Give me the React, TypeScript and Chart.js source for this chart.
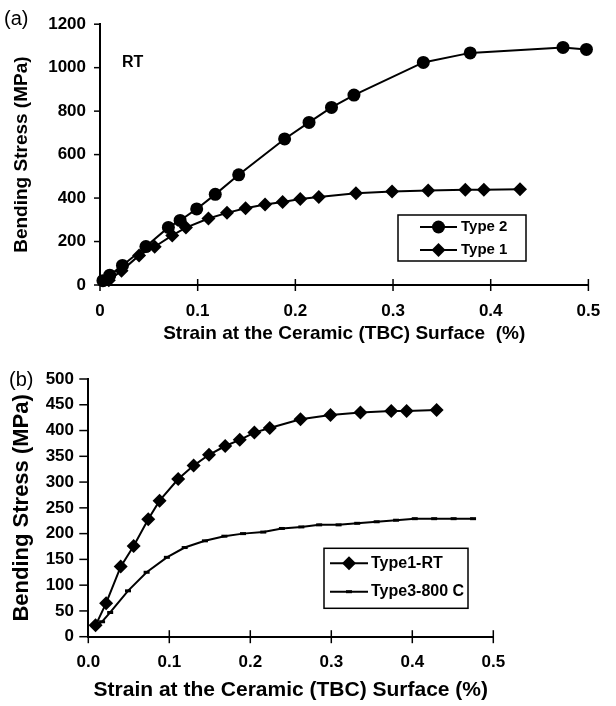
import React, { useEffect, useRef } from "react";
import { Chart, registerables } from "chart.js";

Chart.register(...registerables);

// ---- Data ----
const type2X = [0.003, 0.010, 0.023, 0.047, 0.070, 0.082, 0.099, 0.118, 0.142, 0.189, 0.214, 0.237, 0.260, 0.331, 0.379, 0.474, 0.498];
const type2Y = [20, 45, 90, 177, 265, 297, 350, 417, 507, 672, 748, 817, 874, 1024, 1068, 1093, 1084];

const type1X = [0.009, 0.022, 0.040, 0.056, 0.074, 0.088, 0.111, 0.130, 0.149, 0.169, 0.187, 0.205, 0.224, 0.262, 0.299, 0.336, 0.374, 0.393, 0.430];
const type1Y = [22, 65, 136, 176, 228, 264, 306, 332, 353, 370, 382, 396, 405, 422, 430, 435, 438, 438, 440];

const type3X = [0.010, 0.017, 0.027, 0.049, 0.072, 0.097, 0.119, 0.144, 0.168, 0.191, 0.216, 0.239, 0.263, 0.285, 0.309, 0.332, 0.356, 0.380, 0.403, 0.427, 0.451, 0.475];
const type3Y = [22, 29, 47, 89, 125, 154, 173, 186, 195, 200, 203, 210, 213, 217, 217, 220, 223, 226, 229, 229, 229, 229];

const xTicksA = ["0", "0.1", "0.2", "0.3", "0.4", "0.5"];
const xTicksB = ["0.0", "0.1", "0.2", "0.3", "0.4", "0.5"];

const FONT = "'Liberation Sans', Arial, sans-serif";
const xTitle = "Strain at the Ceramic (TBC) Surface  (%)";
const xTitleB = "Strain at the Ceramic (TBC) Surface (%)";
const yTitle = "Bending Stress (MPa)";

const pts = (xs: number[], ys: number[]) => xs.map((x, i) => ({ x, y: ys[i] }));

function drawMarker(ctx: CanvasRenderingContext2D, style: string, x: number, y: number, r: number) {
  ctx.beginPath();
  if (style === "circle") {
    ctx.arc(x, y, r, 0, Math.PI * 2);
    ctx.fill();
  } else if (style === "rectRot") {
    ctx.moveTo(x, y - r);
    ctx.lineTo(x + r, y);
    ctx.lineTo(x, y + r);
    ctx.lineTo(x - r, y);
    ctx.closePath();
    ctx.fill();
  } else {
    ctx.lineWidth = 3;
    ctx.moveTo(x - r, y);
    ctx.lineTo(x + r, y);
    ctx.stroke();
  }
}

const decorPlugin = {
  id: "decor",
  afterDraw(chart: any, _args: any, opts: any) {
    const ctx: CanvasRenderingContext2D = chart.ctx;
    const xs = chart.scales.x;
    const ys = chart.scales.y;
    ctx.save();
    ctx.strokeStyle = "#000";
    ctx.fillStyle = "#000";
    ctx.lineWidth = 1.5;
    xs.ticks.forEach((t: any) => {
      const px = xs.getPixelForValue(t.value);
      ctx.beginPath();
      ctx.moveTo(px, ys.bottom - opts.xIn);
      ctx.lineTo(px, ys.bottom + opts.xOut);
      ctx.stroke();
    });
    ys.ticks.forEach((t: any) => {
      const py = ys.getPixelForValue(t.value);
      ctx.beginPath();
      ctx.moveTo(xs.left - opts.yOut, py);
      ctx.lineTo(xs.left, py);
      ctx.stroke();
    });
    (opts.texts || []).forEach((t: any) => {
      ctx.font = t.font;
      ctx.textAlign = "left";
      ctx.textBaseline = "middle";
      ctx.fillText(t.text, t.x, t.y);
    });
    const lg = opts.legend;
    if (lg) {
      ctx.lineWidth = 1.5;
      ctx.strokeRect(lg.x, lg.y, lg.w, lg.h);
      lg.items.forEach((it: any, i: number) => {
        const ds = chart.data.datasets[i];
        const yy = it.y;
        ctx.lineWidth = 2;
        ctx.beginPath();
        ctx.moveTo(lg.lineX0, yy);
        ctx.lineTo(lg.lineX1, yy);
        ctx.stroke();
        drawMarker(ctx, ds.pointStyle, (lg.lineX0 + lg.lineX1) / 2, yy, ds.pointRadius);
        ctx.font = lg.font;
        ctx.textAlign = "left";
        ctx.textBaseline = "middle";
        ctx.fillText(ds.label, lg.textX, yy);
      });
    }
    ctx.restore();
  },
};

function makeConfig(panel: "a" | "b") {
  const isA = panel === "a";
  const tickFont = { family: FONT, size: 17, weight: "bold" as const };
  const datasets = isA
    ? [
        { label: "Type 2", data: pts(type2X, type2Y), pointStyle: "circle", pointRadius: 6.5 },
        { label: "Type 1", data: pts(type1X, type1Y), pointStyle: "rectRot", pointRadius: 7 },
      ]
    : [
        { label: "Type1-RT", data: pts(type1X, type1Y), pointStyle: "rectRot", pointRadius: 7 },
        { label: "Type3-800 C", data: pts(type3X, type3Y), pointStyle: "line", pointRadius: 3 },
      ];
  return {
    type: "scatter" as const,
    data: {
      datasets: datasets.map((d) => ({
        ...d,
        showLine: true,
        borderColor: "#000",
        backgroundColor: "#000",
        borderWidth: 2,
        pointBackgroundColor: "#000",
        pointBorderColor: "#000",
        pointBorderWidth: d.pointStyle === "line" ? 3 : 0,
        pointHoverRadius: d.pointRadius,
        clip: false as const,
      })),
    },
    options: {
      responsive: false,
      animation: false as const,
      layout: {
        padding: isA
          ? { left: 0, right: 15, top: 18, bottom: 0 }
          : { left: 0, right: 122.7, top: 34, bottom: 0 },
      },
      plugins: {
        legend: { display: false },
        tooltip: { enabled: false },
        decor: isA
          ? {
              xIn: 6,
              xOut: 6,
              yOut: 6,
              texts: [
                { text: "(a)", x: 4, y: 19, font: `20px ${FONT}` },
                { text: "RT", x: 122, y: 63, font: `bold 16px ${FONT}` },
              ],
              legend: {
                x: 398, y: 215, w: 128, h: 46,
                lineX0: 420, lineX1: 457, textX: 461,
                font: `bold 15px ${FONT}`,
                items: [{ y: 227 }, { y: 250 }],
              },
            }
          : {
              xIn: 6.5,
              xOut: 6.5,
              yOut: 9,
              texts: [{ text: "(b)", x: 9, y: 35, font: `20px ${FONT}` }],
              legend: {
                x: 324, y: 203.3, w: 144, h: 60,
                lineX0: 330, lineX1: 368, textX: 371,
                font: `bold 16px ${FONT}`,
                items: [{ y: 218.3 }, { y: 246.7 }],
              },
            },
      },
      scales: {
        x: {
          type: "linear" as const,
          min: 0,
          max: 0.5,
          grid: { display: false, drawTicks: false },
          border: { display: true, color: "#000", width: 2 },
          ticks: {
            stepSize: 0.1,
            color: "#000",
            font: tickFont,
            padding: isA ? 15.8 : 15.1,
            maxRotation: 0,
            callback: (_v: any, i: number) => (isA ? xTicksA : xTicksB)[i],
          },
          title: {
            display: true,
            text: isA ? xTitle : xTitleB,
            color: "#000",
            font: { family: FONT, size: isA ? 19 : 21, weight: "bold" as const },
            padding: { top: 0, bottom: isA ? 0 : 3.4 },
          },
          afterFit: (s: any) => {
            s.height = isA ? 60 : 69.3;
          },
        },
        y: {
          type: "linear" as const,
          min: 0,
          max: isA ? 1200 : 500,
          grid: { display: false, drawTicks: false },
          border: { display: true, color: "#000", width: 2 },
          ticks: {
            stepSize: isA ? 200 : 50,
            color: "#000",
            font: tickFont,
            padding: isA ? 14 : 14.3,
            callback: (v: any) => String(v),
          },
          title: {
            display: true,
            text: yTitle,
            color: "#000",
            font: { family: FONT, size: isA ? 19 : 22, weight: "bold" as const },
            padding: { top: isA ? 10.6 : 8.8, bottom: 0 },
          },
          afterFit: (s: any) => {
            s.width = isA ? 100 : 88.3;
          },
        },
      },
    },
    plugins: [decorPlugin],
  };
}

function Panel({ panel, top, height }: { panel: "a" | "b"; top: number; height: number }) {
  const ref = useRef<HTMLCanvasElement | null>(null);
  useEffect(() => {
    if (!ref.current) return;
    const chart = new Chart(ref.current, makeConfig(panel) as any);
    return () => chart.destroy();
  }, [panel]);
  return (
    <canvas
      ref={ref}
      width={616}
      height={height}
      style={{ position: "absolute", left: 0, top, width: 616, height, display: "block" }}
    />
  );
}

export default function App() {
  return (
    <div style={{ position: "absolute", left: 0, top: 0, width: 616, height: 706, background: "#fff" }}>
      <Panel panel="a" top={0} height={345} />
      <Panel panel="b" top={345} height={361} />
    </div>
  );
}
